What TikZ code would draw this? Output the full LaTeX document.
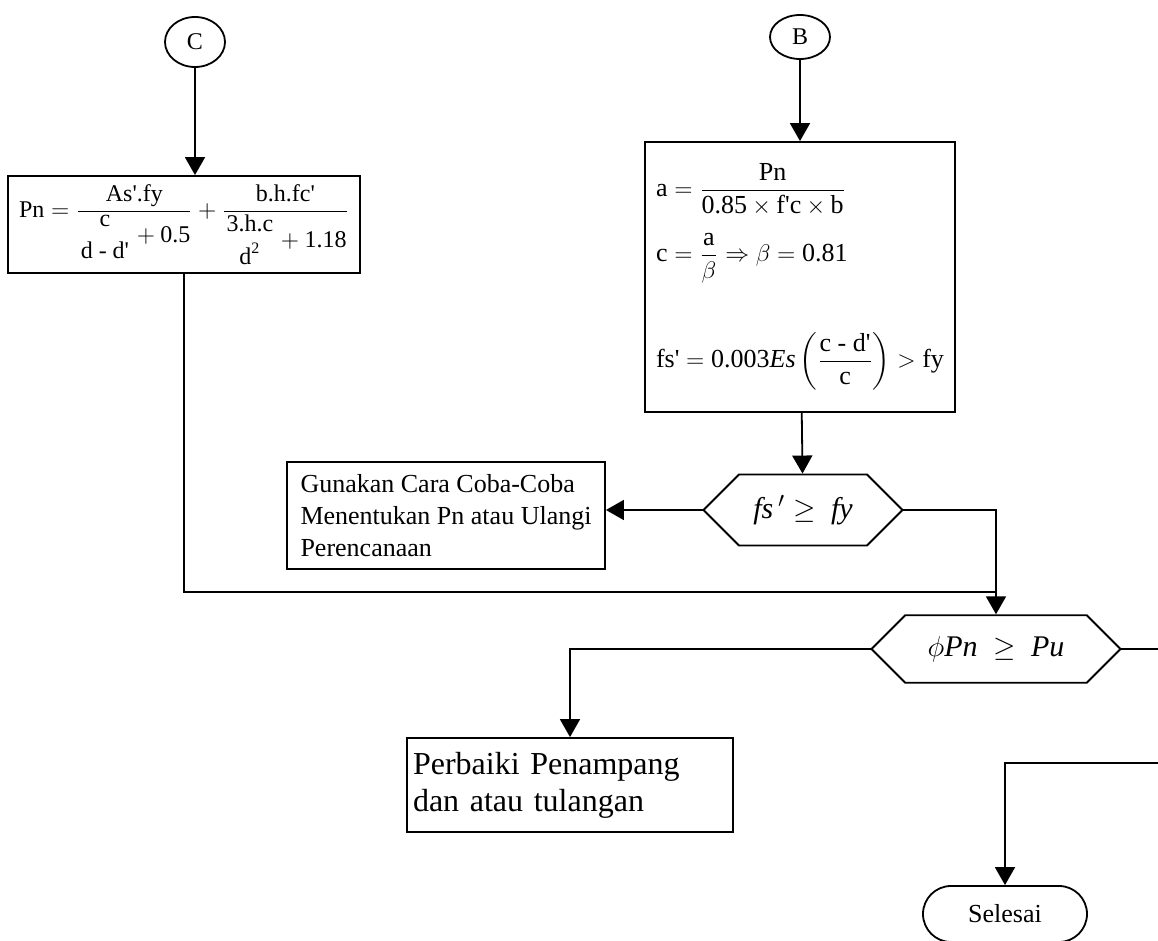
\documentclass[tikz,border=0pt]{standalone}
\usepackage{amsmath}
\usepackage{fontspec}
\setmainfont{Liberation Serif}
\usetikzlibrary{arrows.meta,positioning,shapes.geometric,shapes.misc}
\newcommand{\ap}{\textquotesingle}
\tikzset{
  box/.style={rectangle, draw=black, line width=0.9pt, inner sep=4pt,
              font=\fontsize{13}{16}\selectfont},
  conn/.style={ellipse, draw=black, line width=0.9pt, inner sep=0pt,
              font=\fontsize{12}{14}\selectfont},
  decide/.style={chamfered rectangle, chamfered rectangle ysep=10.5pt, draw=black,
              line width=0.9pt, minimum height=21pt, inner sep=0pt,
              font=\fontsize{15}{18}\selectfont},
  term/.style={rectangle, rounded corners=14pt, draw=black, line width=0.9pt,
              font=\fontsize{13}{16}\selectfont},
  flow/.style={-{Triangle[length=9pt,width=10pt]}, line width=0.9pt},
  link/.style={line width=0.9pt}
}

\begin{document}
\begin{tikzpicture}[x=0.5pt, y=-0.5pt]
  \useasboundingbox (0,0) rectangle (1158,941);
  % off-page connectors
  \node[conn, minimum width=30pt, minimum height=25pt] (C) at (195,42) {C};
  \node[conn, minimum width=30pt, minimum height=22pt] (B) at (800,37) {B};
  % formula boxes
  \node[box, minimum width=176pt, minimum height=48.5pt, font=\fontsize{12}{14.5}\selectfont]
       (pnbox) at (184,224.5)
       {$\text{Pn} = \dfrac{\text{As\ap.fy}}{\genfrac{}{}{0pt}{0}{\text{c}}{\text{d - d\ap}}+\text{0.5}}
        + \dfrac{\text{b.h.fc\ap}}{\genfrac{}{}{0pt}{0}{\text{3.h.c}}{\text{d}^{\text{2}}}+\text{1.18}}$};
  \node[box, minimum width=155pt, minimum height=135pt, align=left] (bbox) at (800,277)
       {$\text{a} = \dfrac{\text{Pn}}{\text{0.85}\times\text{f\ap c}\times\text{b}}$\\[8pt]
        $\text{c} = \dfrac{\text{a}}{\beta}\Rightarrow\beta = \text{0.81}$\\[24pt]
        $\text{fs\ap} = \text{0.003}\textit{Es}\left(\dfrac{\text{c - d\ap}}{\text{c}}\right) > \text{fy}$};
  % decisions
  \node[decide, chamfered rectangle xsep=20pt, minimum width=99.5pt] (fs) at (803,510)
       {$\textit{fs}\,'\geq\ \textit{fy}$};
  \node[decide, chamfered rectangle xsep=24pt, minimum width=124.5pt] (phi) at (996,649)
       {$\phi\textit{Pn}\ \geq\ \textit{Pu}$};
  % outcome boxes
  \node[box, minimum width=159pt, minimum height=53.5pt, align=left] (gunakan) at (446,515.5)
       {Gunakan Cara Coba-Coba\\Menentukan Pn atau Ulangi\\Perencanaan};
  \node[box, minimum height=47pt, inner xsep=3pt, text width=157pt, align=left,
        font=\fontsize{16}{18.5}\selectfont] (perbaiki) at (570,785)
       {Perbaiki Penampang\\dan atau tulangan};
  \node[term, minimum width=82pt, minimum height=28pt] (selesai) at (1005,914) {Selesai};
  % junctions and page edge
  \coordinate (join) at (996,592);
  \coordinate (edgeA) at (1158,649);
  \coordinate (edgeB) at (1158,763);
  % connectors
  \draw[flow] (C) -- (C |- pnbox.north);
  \draw[flow] (B) -- (bbox);
  \draw[flow] (bbox) -- (fs);
  \draw[flow] (fs.west) -- (gunakan.east |- fs.west);
  \draw[flow] (fs.east) -| (phi.north);
  \draw[link] (pnbox.south) |- (join);
  \draw[flow] (phi.west) -| (perbaiki.north);
  \draw[link] (phi.east) -- (edgeA);
  \draw[flow] (edgeB) -| (selesai.north);
\end{tikzpicture}
\end{document}
